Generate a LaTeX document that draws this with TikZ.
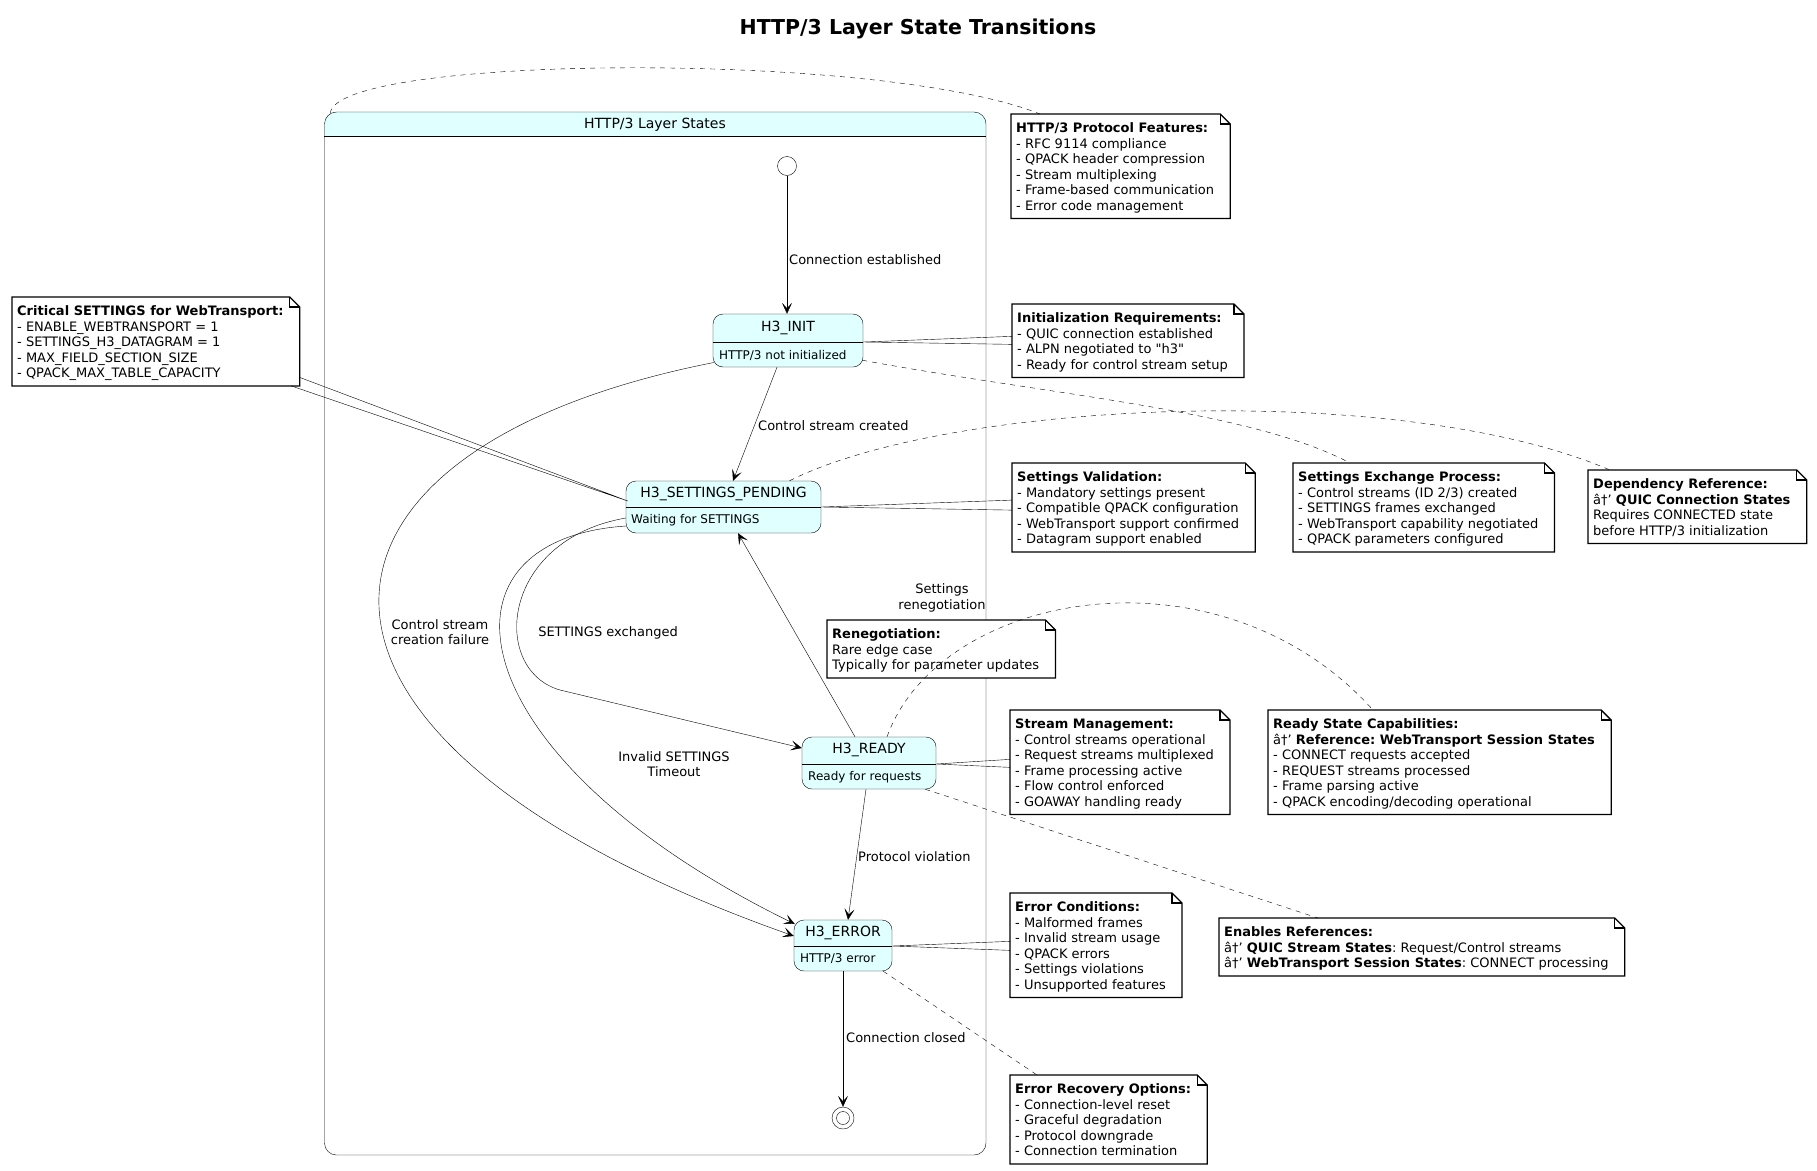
\documentclass[tikz,border=0pt]{standalone}
\usepackage{fontspec}
\setmainfont{DejaVu Sans}
\newfontfamily\plainfont{DejaVu Sans}
\usetikzlibrary{arrows.meta,calc}
\pgfdeclarelayer{bg}
\pgfdeclarelayer{nbg}
\pgfsetlayers{bg,nbg,main}
\definecolor{stfill}{RGB}{224,255,255}
\frenchspacing
\newcommand{\NoteBox}[4]{%
  \node[notetxt] (#1) at (#2+5,#3+7.65) {\strut#4\strut};
  \begin{pgfonlayer}{nbg}
    \draw[notebd] ($(#1.north west)+(-5,-7.65)$) -- ($(#1.north east)+(6,-7.65)$) -- ($(#1.north east)+(16,2.35)$) -- ($(#1.south east)+(16,3.35)$) coordinate (#1-se) -- ($(#1.south west)+(-5,3.35)$) -- cycle;
    \draw[notebd,fill=none] ($(#1.north east)+(6,-7.65)$) -- ($(#1.north east)+(6,2.35)$) -- ($(#1.north east)+(16,2.35)$);
  \end{pgfonlayer}}
\begin{document}
\frenchspacing
\begin{tikzpicture}[x=1pt,y=-1pt,line width=1.25pt,
  notetxt/.style={anchor=north west,inner sep=0pt,align=left,font=\fontsize{13}{15.5}\selectfont\frenchspacing},
  notebd/.style={draw=black,fill=white,line width=1.25pt},
  state/.style={draw,fill=stfill,rounded corners=10pt,inner sep=0pt},
  sname/.style={inner sep=0pt,font=\fontsize{14}{17}\selectfont},
  sdesc/.style={inner sep=0pt,anchor=west,font=\fontsize{12}{14}\selectfont},
  lbl/.style={inner sep=0pt,font=\fontsize{13}{15.5}\selectfont},
  trans/.style={-{Stealth[length=11pt,width=10pt,inset=5.5pt]}},
  notelink/.style={dash pattern=on 5pt off 5pt}]
\useasboundingbox (0,0) rectangle (1817,1170);
\begin{pgfonlayer}{bg}
  \fill[white] (0,0) rectangle (1817,1170);
  \fill[stfill,rounded corners=12pt] (324.5,112) rectangle (986,160);
  \fill[white] (324.5,136) rectangle (986,161);
  \node[draw,rounded corners=12pt,minimum width=661.5pt,minimum height=1043pt,inner sep=0pt] (cont) at (655.25,633.5) {};
  \draw ($(cont.north west)+(0,24)$) -- ($(cont.north east)+(0,24)$);
  \node[inner sep=0pt,font=\fontsize{14}{17}\selectfont] (contT) at (655,124.5) {HTTP/3 Layer States};
\end{pgfonlayer}

\node[inner sep=0pt,font=\fontsize{20.5}{24}\selectfont\bfseries] (title) at (918,29) {HTTP/3 Layer State Transitions};

% states
\node[state,minimum width=150pt,minimum height=53pt] (init) at (788,340.5) {};
\draw ($(init.north west)+(0,28)$) -- ($(init.north east)+(0,28)$);
\node[sname] (initN) at ($(init.north)+(0,14)$) {H3\_INIT};
\node[sdesc] (initD) at (719,355) {HTTP/3 not initialized};

\node[state,minimum width=195pt,minimum height=52pt] (sp) at (723.5,507) {};
\draw ($(sp.north west)+(0,26)$) -- ($(sp.north east)+(0,26)$);
\node[sname] (spN) at ($(sp.north)+(0,13)$) {H3\_SETTINGS\_PENDING};
\node[sdesc] (spD) at (631,520) {Waiting for SETTINGS};

\node[state,minimum width=134pt,minimum height=52pt] (ready) at (869,763) {};
\draw ($(ready.north west)+(0,27)$) -- ($(ready.north east)+(0,27)$);
\node[sname] (readyN) at ($(ready.north)+(0,13.5)$) {H3\_READY};
\node[sdesc] (readyD) at (808,777) {Ready for requests};

\node[state,minimum width=98pt,minimum height=51pt] (err) at (843,945.5) {};
\draw ($(err.north west)+(0,26)$) -- ($(err.north east)+(0,26)$);
\node[sname] (errN) at ($(err.north)+(0,13)$) {H3\_ERROR};
\node[sdesc] (errD) at (800,958.5) {HTTP/3 error};

\node[circle,draw,fill=white,minimum size=19pt,inner sep=0pt] (ini) at (787,166) {};
\node[circle,draw,fill=white,minimum size=22pt,inner sep=0pt] (fin) at (843,1118) {};
\node[circle,draw,minimum size=13pt,inner sep=0pt] (finI) at (fin.center) {};

% notes
\NoteBox{nfeat}{1011}{114}{\textbf{HTTP/3 Protocol Features:}\\- RFC 9114 compliance\\- QPACK header compression\\- Stream multiplexing\\- Frame-based communication\\- Error code management}
\NoteBox{ncrit}{12}{297}{\textbf{Critical SETTINGS for WebTransport:}\\- ENABLE\_WEBTRANSPORT = 1\\- SETTINGS\_H3\_DATAGRAM = 1\\- MAX\_FIELD\_SECTION\_SIZE\\- QPACK\_MAX\_TABLE\_CAPACITY}
\NoteBox{ninit}{1012}{304}{\textbf{Initialization Requirements:}\\- QUIC connection established\\- ALPN negotiated to {\plainfont"h3"}\\- Ready for control stream setup}
\NoteBox{nval}{1012}{463}{\textbf{Settings Validation:}\\- Mandatory settings present\\- Compatible QPACK configuration\\- WebTransport support confirmed\\- Datagram support enabled}
\NoteBox{nexch}{1293}{463}{\textbf{Settings Exchange Process:}\\- Control streams (ID 2/3) created\\- SETTINGS frames exchanged\\- WebTransport capability negotiated\\- QPACK parameters configured}
\NoteBox{ndep}{1588}{470}{\textbf{Dependency Reference:}\\â†’ \textbf{QUIC Connection States}\\Requires CONNECTED state\\before HTTP/3 initialization}
\NoteBox{nreneg}{827}{620}{\textbf{Renegotiation:}\\Rare edge case\\Typically for parameter updates}
\NoteBox{nstream}{1010}{710}{\textbf{Stream Management:}\\- Control streams operational\\- Request streams multiplexed\\- Frame processing active\\- Flow control enforced\\- GOAWAY handling ready}
\NoteBox{ncaps}{1268}{710}{\textbf{Ready State Capabilities:}\\â†’ \textbf{Reference: WebTransport Session States}\\- CONNECT requests accepted\\- REQUEST streams processed\\- Frame parsing active\\- QPACK encoding/decoding operational}
\NoteBox{nerr}{1010}{893}{\textbf{Error Conditions:}\\- Malformed frames\\- Invalid stream usage\\- QPACK errors\\- Settings violations\\- Unsupported features}
\NoteBox{nenab}{1219}{918}{\textbf{Enables References:}\\â†’ \textbf{QUIC Stream States}: Request/Control streams\\â†’ \textbf{WebTransport Session States}: CONNECT processing}
\NoteBox{nrec}{1010}{1075}{\textbf{Error Recovery Options:}\\- Connection-level reset\\- Graceful degradation\\- Protocol downgrade\\- Connection termination}

% transitions
\draw[trans] (ini.south) -- (ini.south |- init.north);
\node[lbl,anchor=west] (lConn) at (789,260) {Connection established};

\draw[trans] ($(init.south)+(-11,0)$) -- ($(sp.north)+(9.5,0)$);
\node[lbl,anchor=west] (lCtrl) at (758,426) {Control stream created};

\draw[trans] ($(init.west)+(1,22)$) .. controls (270,450) and (240,740) .. ($(err.west)+(0,-9.5)$);
\node[lbl,align=center] (lFail) at (440,632) {Control stream\\creation failure};

\draw[trans] ($(sp.west)+(0,11)$) .. controls (500,540) and (490,670) .. (560,690) -- ($(ready.west)+(0,-15)$);
\node[lbl] (lExch) at (608,633) {SETTINGS exchanged};

\draw[trans] ($(sp.west)+(0,19)$) .. controls (420,540) and (460,760) .. ($(err.west)+(1,-21.5)$);
\node[lbl,align=center] (lInv) at (674,764) {Invalid SETTINGS\\Timeout};

\draw[trans] ($(ready.north)+(-14,0)$) -- ($(sp.south)+(14.5,0)$);
\node[lbl,align=center] (lReneg) at (942,598) {Settings\\renegotiation};

\draw[trans] ($(ready.south)+(-3,0)$) -- ($(err.north)+(5,0)$);
\node[lbl,anchor=west] (lProt) at (858,857) {Protocol violation};

\draw[trans] (err.south) -- (fin.north);
\node[lbl,anchor=west] (lClose) at (846,1038) {Connection closed};

% note wedges
\draw ($(ncrit-se)+(0,-8.5)$) -- ($(sp.west)+(2,-6)$) -- ($(ncrit-se)+(-8.5,0)$);
\draw ($(ninit.west)+(-5,-6.5)$) -- ($(init.east)+(0,1.5)$) -- ($(ninit.west)+(-5,1.5)$);
\draw ($(nval.west)+(-5,-9.5)$) -- (sp.east) -- ($(nval.west)+(-5,0.5)$);
\draw ($(nstream.west)+(-5,-5)$) -- ($(ready.east)+(0,1)$) -- ($(nstream.west)+(-5,3)$);
\draw ($(nerr.west)+(-5,-6)$) -- ($(err.east)+(0,0.5)$) -- ($(nerr.west)+(-5,3)$);

% dashed note links
\draw[notelink] ($(cont.north west)+(6,1.5)$) .. controls (335,55) and (880,50) .. ($(nfeat.north west)+(24,-7.65)$);
\draw[notelink] ($(init.south east)+(-1,-7)$) .. controls (1050,395) and (1250,410) .. ($(nexch.north west)+(52,-7.65)$);
\draw[notelink] ($(sp.north)+(66,0)$) .. controls (950,400) and (1400,380) .. ($(ndep.north west)+(17,-7.65)$);
\draw[notelink] ($(ready.north)+(18,0)$) .. controls (940,590) and (1220,540) .. ($(ncaps.north west)+(100,-7.65)$);
\draw[notelink] ($(ready.south east)+(-11,0)$) -- ($(nenab.north west)+(94,-7.65)$);
\draw[notelink] ($(err.south east)+(-9,0)$) -- ($(nrec.north west)+(22,-7.65)$);
\end{tikzpicture}
\end{document}
